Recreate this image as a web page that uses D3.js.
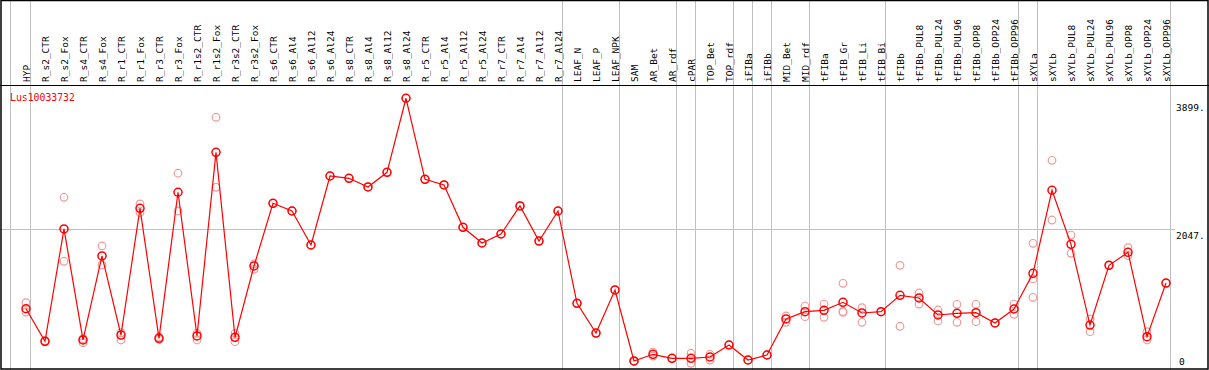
<!DOCTYPE html>
<html>
<head>
<meta charset="utf-8">
<script src="https://cdn.jsdelivr.net/npm/d3@7"></script>
<style>
  body { margin: 0; background: #fff; }
  text { font-family: "DejaVu Sans Mono", monospace; }
</style>
</head>
<body>
<div id="chart"></div>
<script>
// sample names (columns)
const samples = ["HYP", "R_s2_CTR", "R_s2_Fox", "R_s4_CTR", "R_s4_Fox", "R_r1_CTR", "R_r1_Fox",
  "R_r3_CTR", "R_r3_Fox", "R_r1s2_CTR", "R_r1s2_Fox", "R_r3s2_CTR", "R_r3s2_Fox",
  "R_s6_CTR", "R_s6_Al4", "R_s6_Al12", "R_s6_Al24", "R_s8_CTR", "R_s8_Al4", "R_s8_Al12", "R_s8_Al24",
  "R_r5_CTR", "R_r5_Al4", "R_r5_Al12", "R_r5_Al24", "R_r7_CTR", "R_r7_Al4", "R_r7_Al12", "R_r7_Al24",
  "LEAF_N", "LEAF_P", "LEAF_NPK", "SAM", "AR_Bet", "AR_rdf", "cPAR", "TOP_Bet", "TOP_rdf",
  "iFIBa", "iFIBb", "MID_Bet", "MID_rdf", "tFIBa", "tFIB_Gr", "tFIB_Li", "tFIB_Bi",
  "tFIBb", "tFIBb_PUL8", "tFIBb_PUL24", "tFIBb_PUL96", "tFIBb_OPP8", "tFIBb_OPP24", "tFIBb_OPP96",
  "sXYLa", "sXYLb", "sXYLb_PUL8", "sXYLb_PUL24", "sXYLb_PUL96", "sXYLb_OPP8", "sXYLb_OPP24", "sXYLb_OPP96"];

// mean expression per sample
const means = [890, 417, 2048, 436, 1656, 508, 2348,
  460, 2581, 494, 3161, 475, 1510,
  2421, 2309, 1815, 2817, 2784, 2658, 2871, 3946,
  2769, 2687, 2072, 1844, 1975, 2382, 1873, 2309,
  969, 537, 1162, 131, 228, 170, 170, 189, 363,
  145, 218, 741, 847, 867, 983, 828, 847,
  1085, 1046, 799, 823, 832, 683, 886,
  1404, 2610, 1825, 653, 1520, 1709, 484, 1263];

// individual replicates per sample
const replicates = [[977, 842], [410, 425], [2508, 1579], [455, 396], [1801, 1525], [542, 436], [2411, 2284],
  [479, 443], [2857, 2309], [533, 436], [3670, 2653], [533, 411], [1539, 1462],
  [2421], [2309], [1815], [2817], [2784], [2658], [2871], [3946],
  [2769], [2687], [2072], [1844], [1975], [2382], [1873], [2309],
  [969], [537], [1162], [131, 125], [261, 203], [170], [243, 97], [228, 145], [363],
  [145], [218], [784, 693], [929, 774], [958, 765], [1259, 850, 838], [905, 693], [847],
  [1520, 635], [1118, 958], [871, 712], [954, 693], [954, 701], [683], [958, 809],
  [1840, 1322, 1056], [3045, 2178], [1960, 1695], [741, 556], [1520], [1776, 1660], [556, 436], [1263]];

// group separators: sample after which a grey line is drawn
const separators = ["HYP", "R_r7_Al24", "LEAF_NPK", "AR_rdf", "cPAR", "TOP_rdf", "iFIBa", "iFIBb",
  "MID_rdf", "tFIB_Bi", "tFIBb_OPP96", "sXYLa", "sXYLb_OPP96"];

const yTicks = [0, 2047, 3899];
const yTickLabels = ["0", "2047.", "3899."];
const gridTicks = [2047];
const geneName = "Lus10033732";

const width = 1209, height = 370, headerH = 85;

const svg = d3.select("#chart").append("svg")
  .attr("width", width)
  .attr("height", height);

const x = d3.scalePoint().domain(samples).range([26, 1166]);
const y = d3.scaleLinear().domain([0, 3899]).range([370, 101.5]);

// vertical group lines, through header too
svg.append("line")
  .attr("x1", 10.5).attr("x2", 10.5).attr("y1", 0).attr("y2", height)
  .attr("stroke", "#c0c0c0");
svg.selectAll(".sep")
  .data(separators)
  .enter().append("line")
  .attr("class", "sep")
  .attr("x1", d => x(d) + 4.5).attr("x2", d => x(d) + 4.5)
  .attr("y1", 0).attr("y2", height)
  .attr("stroke", "#c0c0c0");

// horizontal grid
svg.selectAll(".grid")
  .data(gridTicks)
  .enter().append("line")
  .attr("x1", 0).attr("x2", 1175)
  .attr("y1", d => Math.round(y(d)) + 0.5).attr("y2", d => Math.round(y(d)) + 0.5)
  .attr("stroke", "#c0c0c0");

// frame
svg.append("rect")
  .attr("x", 1).attr("y", 0.5).attr("width", width - 2).attr("height", height - 1.5)
  .attr("fill", "none").attr("stroke", "#000").attr("stroke-width", 1.5);
svg.append("line")
  .attr("x1", 0).attr("x2", width).attr("y1", headerH + 0.5).attr("y2", headerH + 0.5)
  .attr("stroke", "#000");

// column labels, rotated
svg.selectAll(".lab")
  .data(samples)
  .enter().append("text")
  .attr("transform", d => "translate(" + (x(d) + 4) + "," + 82 + ") rotate(-90)")
  .attr("font-size", "9.5px")
  .attr("fill", "#000")
  .text(d => d);

// y labels on the right
svg.selectAll(".ylab")
  .data(yTicks)
  .enter().append("text")
  .attr("x", (d, i) => i === 0 ? 1179 : 1176)
  .attr("y", d => Math.min(y(d) + 9.5, 365))
  .attr("font-size", "9.5px")
  .attr("fill", "#000")
  .text((d, i) => yTickLabels[i]);

// gene name
svg.append("text")
  .attr("x", 10).attr("y", 101)
  .attr("font-size", "9.8px")
  .attr("fill", "red")
  .text(geneName);

// replicate dots
const repPts = [];
replicates.forEach((r, i) => r.forEach(v => repPts.push({s: samples[i], v: v})));
svg.selectAll(".rep")
  .data(repPts)
  .enter().append("circle")
  .attr("cx", d => x(d.s))
  .attr("cy", d => y(d.v))
  .attr("r", 3.8)
  .attr("fill", "none")
  .attr("stroke", "#f09a9a")
  .attr("stroke-width", 1.2);

// mean line
const line = d3.line()
  .x((d, i) => x(samples[i]))
  .y(d => y(d));
svg.append("path")
  .datum(means)
  .attr("d", line)
  .attr("fill", "none")
  .attr("stroke", "red")
  .attr("stroke-width", 1.2);

// mean points
svg.selectAll(".mean")
  .data(means)
  .enter().append("circle")
  .attr("cx", (d, i) => x(samples[i]))
  .attr("cy", d => y(d))
  .attr("r", 4)
  .attr("fill", "none")
  .attr("stroke", "red")
  .attr("stroke-width", 1.5);
</script>
</body>
</html>
